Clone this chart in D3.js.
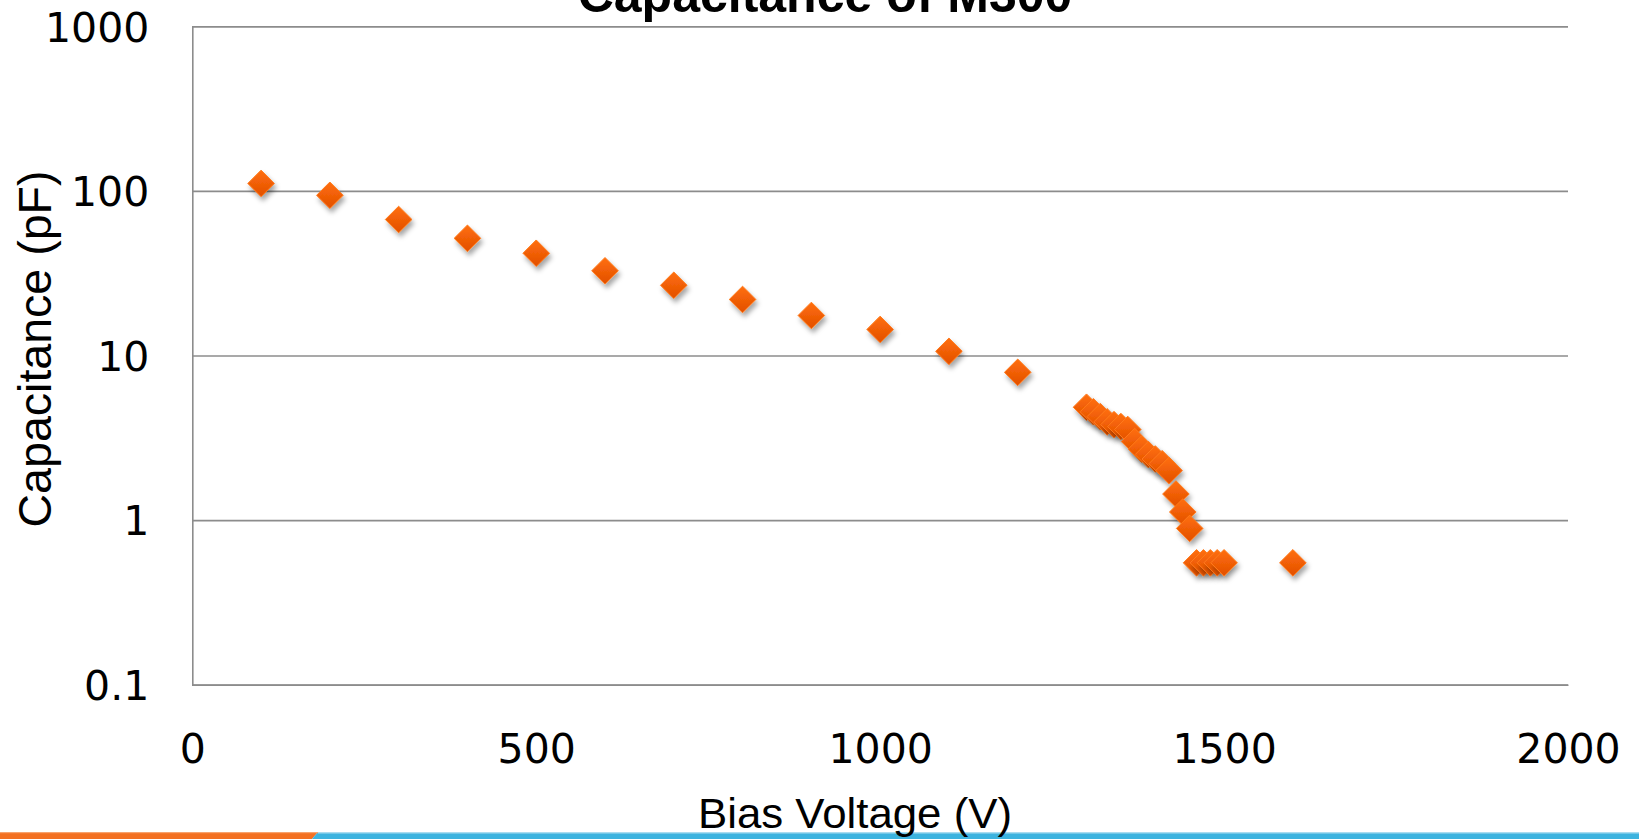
<!DOCTYPE html>
<html>
<head>
<meta charset="utf-8">
<script src="https://cdn.jsdelivr.net/npm/d3@7"></script>
<style>
  html, body { margin: 0; padding: 0; background: #ffffff; }
  svg { display: block; }
</style>
</head>
<body>
<svg id="chart" width="1639" height="839"></svg>
<script>
// ---- Data ----
const chartTitle = "Capacitance of M300";
const xTitle = "Bias Voltage (V)";
const yTitle = "Capacitance (pF)";
const biasVoltage = [100, 200, 300, 400, 500, 600, 700, 800, 900, 1000, 1100, 1200,
  1300, 1310, 1320, 1330, 1340, 1350, 1360, 1370, 1380, 1390, 1400, 1410, 1420,
  1430, 1440, 1450, 1460, 1470, 1480, 1490, 1500, 1600];
const capacitance = [111, 94, 67, 51.5, 41.8, 32.7, 26.7, 21.9, 17.5, 14.4, 10.6, 7.9,
  4.85, 4.55, 4.25, 3.95, 3.8, 3.7, 3.55, 3.0, 2.7, 2.5, 2.35, 2.2, 2.0,
  1.44, 1.12, 0.89, 0.55, 0.55, 0.55, 0.55, 0.55, 0.55];
const xTickValues = [0, 500, 1000, 1500, 2000];
const yTickValues = [0.1, 1, 10, 100, 1000];
const yTickLabels = ["0.1", "1", "10", "100", "1000"];

// ---- Layout ----
const svg = d3.select("#chart");
const plotLeft = 192.3, plotRight = 1568, plotTop = 26.3, plotBottom = 684.7;

const x = d3.scaleLinear().domain([0, 2000]).range([plotLeft, plotRight]);
const y = d3.scaleLog().domain([0.1, 1000]).range([plotBottom, plotTop]);

const defs = svg.append("defs");
const grad = defs.append("linearGradient").attr("id", "dia").attr("x1", 0).attr("y1", 0).attr("x2", 0).attr("y2", 1);
grad.append("stop").attr("offset", "0%").attr("stop-color", "#ff6f0d");
grad.append("stop").attr("offset", "100%").attr("stop-color", "#e24f00");
const f = defs.append("filter").attr("id", "shadow").attr("x", "-50%").attr("y", "-50%").attr("width", "200%").attr("height", "200%");
f.append("feDropShadow").attr("dx", 2).attr("dy", 4).attr("stdDeviation", 2.5)
  .attr("flood-color", "#000").attr("flood-opacity", 0.35);

// Y axis with gridlines
const yAxis = d3.axisLeft(y)
  .tickValues(yTickValues)
  .tickFormat((d, i) => yTickLabels[i])
  .tickSize(-(plotRight - plotLeft))
  .tickPadding(43);
const gy = svg.append("g").attr("transform", `translate(${plotLeft},0)`).call(yAxis);
gy.selectAll(".tick line").attr("stroke", "#8c8c8c").attr("stroke-width", 1.6);
gy.select(".domain").attr("stroke", "#8c8c8c").attr("stroke-width", 1.6);
gy.selectAll(".tick text")
  .attr("font-family", "DejaVu Sans, sans-serif")
  .attr("font-size", 41)
  .attr("fill", "#000")
  .attr("dy", "0.36em");

// X axis
const xAxis = d3.axisBottom(x)
  .tickValues(xTickValues)
  .tickFormat(d3.format("d"))
  .tickSize(0)
  .tickPadding(49);
const gx = svg.append("g").attr("transform", `translate(0,${plotBottom})`).call(xAxis);
gx.select(".domain").attr("stroke", "#8c8c8c").attr("stroke-width", 1.6);
gx.selectAll(".tick text")
  .attr("font-family", "DejaVu Sans, sans-serif")
  .attr("font-size", 41)
  .attr("fill", "#000");

// Points
const pts = biasVoltage.map((v, i) => ({ v, c: capacitance[i] }));
const diamond = "M0,-13.3 L13.3,0 L0,13.3 L-13.3,0 Z";
svg.append("g").selectAll("path.pt")
  .data(pts)
  .join("path")
  .attr("class", "pt")
  .attr("d", diamond)
  .attr("transform", d => `translate(${x(d.v)},${y(d.c)})`)
  .attr("fill", "url(#dia)")
  .attr("stroke", "#ff7a1c")
  .attr("stroke-width", 1)
  .attr("filter", "url(#shadow)");

// Titles
svg.append("text")
  .attr("x", 825).attr("y", 12)
  .attr("text-anchor", "middle")
  .attr("font-family", "Liberation Sans, Arial, sans-serif")
  .attr("font-weight", "bold")
  .attr("font-size", 50)
  .attr("fill", "#000")
  .text(chartTitle);

svg.append("text")
  .attr("transform", "translate(51,349) rotate(-90)")
  .attr("text-anchor", "middle")
  .attr("font-family", "Liberation Sans, Arial, sans-serif")
  .attr("font-size", 47)
  .attr("textLength", 357)
  .attr("lengthAdjust", "spacingAndGlyphs")
  .attr("fill", "#000")
  .text(yTitle);

// bottom decorative bar
svg.append("polygon").attr("points", "0,832 318,832 312,839 0,839").attr("fill", "#f37021");
svg.append("polygon").attr("points", "318,832 1639,832 1639,839 312,839").attr("fill", "#3cb3df");
svg.append("rect").attr("x", 318).attr("y", 832).attr("width", 1321).attr("height", 1.5).attr("fill", "#a9dcf0");
svg.append("rect").attr("x", 0).attr("y", 832).attr("width", 318).attr("height", 1.2).attr("fill", "#f8a36e");

svg.append("text")
  .attr("x", 855).attr("y", 828)
  .attr("text-anchor", "middle")
  .attr("font-family", "Liberation Sans, Arial, sans-serif")
  .attr("font-size", 43)
  .attr("textLength", 314)
  .attr("lengthAdjust", "spacingAndGlyphs")
  .attr("fill", "#000")
  .text(xTitle);
</script>
</body>
</html>
